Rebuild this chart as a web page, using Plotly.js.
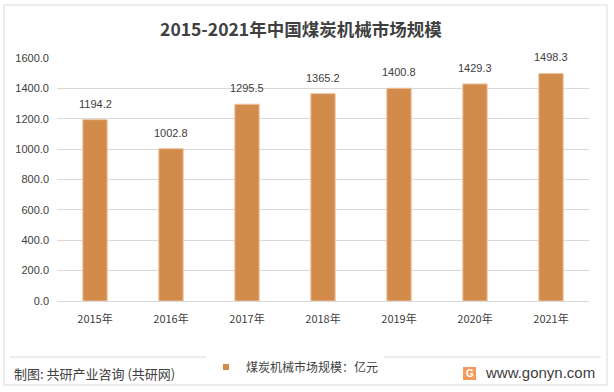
<!DOCTYPE html>
<html><head><meta charset="utf-8">
<script src="https://cdn.plot.ly/plotly-3.0.1.min.js"></script>
<style>html,body{margin:0;padding:0;background:#fff}#chart{width:614px;height:392px}</style>
</head><body><div id="chart"></div>
<script>
const years = ["2015年","2016年","2017年","2018年","2019年","2020年","2021年"];
const values = [1194.2, 1002.8, 1295.5, 1365.2, 1400.8, 1429.3, 1498.3];
const seriesName = "煤炭机械市场规模：亿元";
const tickVals = [0,200,400,600,800,1000,1200,1400,1600];
const tickText = tickVals.map(v => v.toFixed(1));

const F = '"Liberation Sans", "Noto Sans CJK SC", sans-serif';
const CJK = '"Noto Sans CJK SC", sans-serif';
const BAR = '#D38B4C';
// plot area in pixels
const L = 57, R = 589, T = 58, B = 301;
const px = x => (x - L) / (R - L);
const py = y => (B - y) / (B - T);

const bars = {
  type: 'bar', x: years, y: values, name: seriesName, showlegend: false,
  marker: {color: BAR, line: {color: '#EDC39E', width: 1}},
  hoverinfo: 'none'
};
const legendItem = {
  type: 'scatter', mode: 'markers', x: [null], y: [null], name: seriesName,
  marker: {symbol: 'square', size: 6, color: BAR}, hoverinfo: 'none'
};
const valueLabels = years.map((c, i) => ({
  x: c, y: values[i], xref: 'x', yref: 'y', text: values[i].toFixed(1),
  showarrow: false, xanchor: 'center', yanchor: 'bottom', yshift: 8,
  font: {family: F, size: 11, color: '#404040'}
}));
const layout = {
  width: 614, height: 392,
  margin: {l: L, r: 614 - R, t: T, b: 392 - B},
  paper_bgcolor: '#fff', plot_bgcolor: '#fff',
  bargap: 0.68,
  title: {text: '2015-2021年中国煤炭机械市场规模', x: 0.49, xanchor: 'center', y: 1 - 30/392, yanchor: 'middle',
    font: {family: CJK, size: 17.5, color: '#404040', weight: 'bold'}},
  xaxis: {tickfont: {family: CJK, size: 11, color: '#404040'},
    showline: true, linecolor: '#d9d9d9', ticks: '', fixedrange: true, ticklabelstandoff: 8},
  yaxis: {range: [0, 1600], tickvals: tickVals, ticktext: tickText,
    tickfont: {family: F, size: 11, color: '#404040'}, ticklabelstandoff: 7,
    gridcolor: '#d9d9d9', gridwidth: 1, zeroline: false, showline: false, ticks: '', fixedrange: true},
  showlegend: true,
  legend: {orientation: 'h', xref: 'container', yref: 'container', x: 206/614, y: 1 - 367/392,
    xanchor: 'left', yanchor: 'middle', itemwidth: 30,
    font: {family: CJK, size: 12, color: '#404040'}},
  shapes: [
    {type: 'rect', xref: 'paper', yref: 'paper', x0: px(4), x1: px(607), y0: py(385), y1: py(5),
      line: {color: '#d9d9d9', width: 1}},
    {type: 'line', xref: 'paper', yref: 'paper', x0: px(10), x1: px(601), y0: py(357), y1: py(357),
      line: {color: '#d9d9d9', width: 1}},
    {type: 'rect', xref: 'paper', yref: 'paper', x0: px(463), x1: px(476), y0: py(380), y1: py(367),
      fillcolor: '#F59A5A', line: {width: 0}}
  ],
  annotations: valueLabels.concat([
    {text: '制图: 共研产业咨询 (共研网)', xref: 'paper', yref: 'paper', x: px(12), y: py(373),
      xanchor: 'left', yanchor: 'middle', showarrow: false,
      font: {family: CJK, size: 13, color: '#404040'}},
    {text: 'www.gonyn.com', xref: 'paper', yref: 'paper', x: px(597), y: py(372),
      xanchor: 'right', yanchor: 'middle', showarrow: false,
      font: {family: '"Liberation Sans", sans-serif', size: 15, color: '#404040'}},
    {text: 'G', xref: 'paper', yref: 'paper', x: px(469.5), y: py(373.5),
      xanchor: 'center', yanchor: 'middle', showarrow: false,
      font: {family: '"Liberation Sans", sans-serif', size: 10, color: '#fff', weight: 'bold'}}
  ])
};
Plotly.newPlot('chart', [bars, legendItem], layout, {displayModeBar: false, staticPlot: true});
</script></body></html>
